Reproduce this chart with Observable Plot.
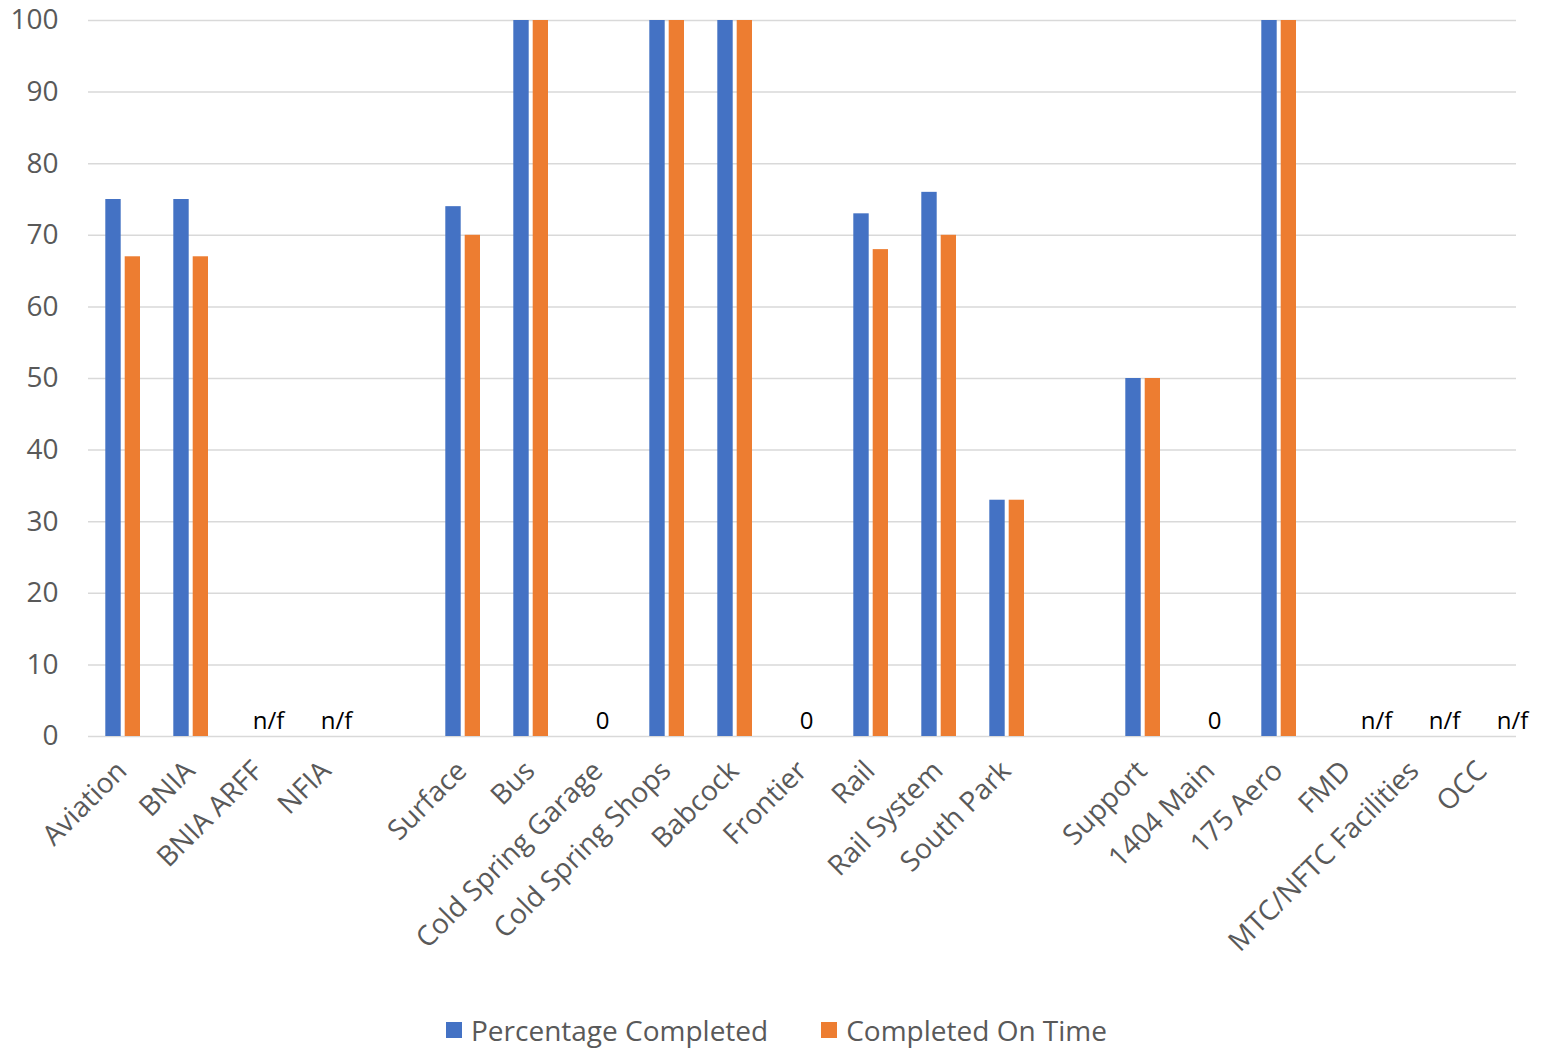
<!DOCTYPE html>
<html><head><meta charset="utf-8">
<script src="https://cdn.jsdelivr.net/npm/d3@7"></script>
<script src="https://cdn.jsdelivr.net/npm/@observablehq/plot@0.6"></script>
<style>
body{margin:0;background:#fff;font-family:"Open Sans",sans-serif;}
#chart svg{display:block;}
#legend{display:flex;justify-content:center;align-items:center;padding-top:12px;padding-left:12px;height:36px;font-size:28px;color:#595959;font-family:"Open Sans",sans-serif;}
.item{display:flex;align-items:center;}
.sw{width:16px;height:16px;margin-right:9px;}
</style></head><body><div id="chart"></div><div id="legend"></div>
<script>
const categories = ["Aviation","BNIA","BNIA ARFF","NFIA"," ","Surface","Bus","Cold Spring Garage","Cold Spring Shops","Babcock","Frontier","Rail","Rail System","South Park","  ","Support","1404 Main","175 Aero","FMD","MTC/NFTC Facilities","OCC"];
const percentageCompleted = [75,75,null,null,null,74,100,null,100,100,null,73,76,33,null,50,null,100,null,null,null];
const completedOnTime     = [67,67,null,null,null,70,100,null,100,100,null,68,70,33,null,50,null,100,null,null,null];
const dataLabels = [null,null,"n/f","n/f",null,null,null,"0",null,null,"0",null,null,null,null,null,"0",null,"n/f","n/f","n/f"];
const seriesNames = ["Percentage Completed","Completed On Time"];
const seriesColors = ["#4472C4","#ED7D31"];
const yTicks = [0,10,20,30,40,50,60,70,80,90,100];

const rows = categories.map((c,i)=>({category:c, pct:percentageCompleted[i], onTime:completedOnTime[i], label:dataLabels[i], idx:i}));
const labelRows = rows.filter(d=>d.label);
const font = "'Open Sans', sans-serif";

const chart = Plot.plot({
  width: 1541, height: 1000,
  marginLeft: 88, marginRight: 25, marginTop: 20, marginBottom: 264,
  style: {fontFamily: font, color: "#595959", background: "#fff"},
  x: {type: "band", domain: categories, padding: 0, axis: null},
  y: {domain: [0,100], axis: null},
  marks: [
    Plot.ruleY(yTicks, {stroke: "#d9d9d9", strokeWidth: 1.5}),
    Plot.axisY({ticks: yTicks, tickSize: 0, tickPadding: 30, fontSize: 28, fill: "#595959"}),
    Plot.barY(rows.filter(d=>d.pct!=null), {x: "category", y: "pct", fill: seriesColors[0], insetLeft: 17.3, insetRight: 35.3}),
    Plot.barY(rows.filter(d=>d.onTime!=null), {x: "category", y: "onTime", fill: seriesColors[1], insetLeft: 36.7, insetRight: 16}),
    Plot.text(labelRows.filter(d=>d.idx<18 && d.label!=="0"), {x: "category", y: 0, text: "label", lineAnchor: "bottom", dy: -8, dx: 10, fontSize: 24, fill: "#000"}),
    Plot.text(labelRows.filter(d=>d.idx<18 && d.label==="0"), {x: "category", y: 0, text: "label", lineAnchor: "bottom", dy: -8, dx: 4, fontSize: 24, fill: "#000"}),
    Plot.text(labelRows.filter(d=>d.idx>=18), {x: "category", y: 0, text: "label", lineAnchor: "bottom", dy: -8, dx: 30, fontSize: 24, fill: "#000"}),
    Plot.text(categories, {x: d=>d, frameAnchor: "bottom", text: d=>d, rotate: -45, textAnchor: "end", dx: 6, dy: 36, fontSize: 28, fill: "#595959"})
  ]
});
document.getElementById("chart").append(chart);

const legend = document.getElementById("legend");
seriesNames.forEach((n,i)=>{
  const it = document.createElement("div"); it.className="item";
  if (i>0) it.style.marginLeft = "53px";
  const sw = document.createElement("div"); sw.className="sw"; sw.style.background = seriesColors[i];
  const t = document.createElement("span"); t.textContent = n;
  it.append(sw,t); legend.append(it);
});
</script></body></html>
